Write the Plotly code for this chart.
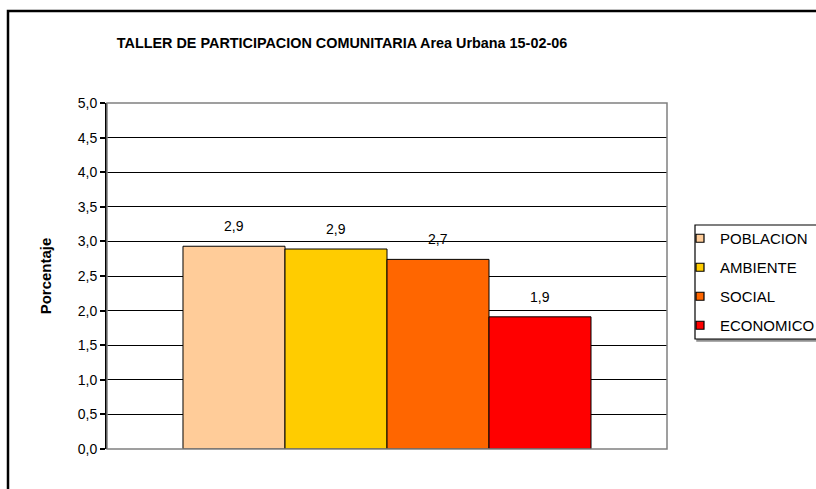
import plotly.graph_objects as go

# Data
series = ["POBLACION", "AMBIENTE", "SOCIAL", "ECONOMICO"]
values = [2.93, 2.89, 2.74, 1.91]
colors = ["#FFCC99", "#FFCC00", "#FF6600", "#FF0000"]
positions = [0, 1, 2, 3]
y_ticks = [0, 0.5, 1, 1.5, 2, 2.5, 3, 3.5, 4, 4.5, 5]

W, H = 816, 489
L, R, T, B = 107, 149, 103, 40
pw = W - L - R
ph = H - T - B

FONT = "Arial, Liberation Sans, sans-serif"

fig = go.Figure()
for name, v, c, p in zip(series, values, colors, positions):
    fig.add_trace(go.Bar(
        x=[p], y=[v], width=[1], name=name, showlegend=False,
        marker=dict(color=c, line=dict(color="black", width=1)),
        hoverinfo="skip",
    ))
# legend entries (small square swatches)
for name, c in zip(series, colors):
    fig.add_trace(go.Scatter(
        x=[None], y=[None], mode="markers", name=name, legendgroup=name,
        marker=dict(symbol="square", size=8, color=c, line=dict(color="black", width=1.2)),
    ))

annotations = []
for v, p in zip(values, positions):
    annotations.append(dict(
        x=p, y=v, xref="x", yref="y", text=f"{v:.1f}".replace(".", ","),
        showarrow=False, yanchor="bottom", yshift=10,
        font=dict(family=FONT, size=14, color="black"),
    ))

def px_to_paper_x(px):
    return (px - L) / pw

def px_to_paper_y(py):
    return (H - B - py) / ph

shapes = [
    # plot area border (grey)
    dict(type="rect", xref="paper", yref="paper", x0=0, x1=1, y0=0, y1=1,
         line=dict(color="#808080", width=1.5), layer="above"),
    # outer chart border
    dict(type="rect", xref="paper", yref="paper",
         x0=px_to_paper_x(8), x1=px_to_paper_x(830),
         y0=px_to_paper_y(500), y1=px_to_paper_y(11),
         line=dict(color="black", width=2.5)),
    # legend box shadow
    dict(type="rect", xref="paper", yref="paper",
         x0=px_to_paper_x(697), x1=px_to_paper_x(830),
         y0=px_to_paper_y(341), y1=px_to_paper_y(227),
         line=dict(color="#909090", width=1.5), fillcolor="#909090", layer="below"),
    # legend box
    dict(type="rect", xref="paper", yref="paper",
         x0=px_to_paper_x(695), x1=px_to_paper_x(830),
         y0=px_to_paper_y(339), y1=px_to_paper_y(225),
         line=dict(color="black", width=1.2), fillcolor="white", layer="below"),
]

fig.update_layout(
    width=W, height=H,
    margin=dict(l=L, r=R, t=T, b=B, autoexpand=False),
    paper_bgcolor="white", plot_bgcolor="white",
    separators=",.",
    font=dict(family=FONT, color="black", size=14),
    title=dict(text="<b>TALLER DE PARTICIPACION COMUNITARIA Area Urbana 15-02-06</b>",
               x=342 / W, xref="container", xanchor="center",
               y=1 - 43 / H, yref="container", yanchor="middle",
               font=dict(size=14.4)),
    xaxis=dict(range=[-1.245, 4.245], showticklabels=False, showgrid=False,
               zeroline=False, showline=False, ticks=""),
    yaxis=dict(range=[0, 5], tickvals=y_ticks, tickformat=".1f",
               showgrid=True, gridcolor="black", gridwidth=1,
               zeroline=False, showline=True, linecolor="black", linewidth=2,
               ticks="outside", ticklen=5, tickcolor="black", tickwidth=1.5,
               tickfont=dict(size=14),
               title=dict(text="<b>Porcentaje</b>", font=dict(size=15), standoff=22)),
    legend=dict(x=px_to_paper_x(680), xanchor="left", y=px_to_paper_y(222), yanchor="top",
                borderwidth=0, bgcolor="rgba(0,0,0,0)",
                font=dict(size=15), tracegroupgap=6.5, itemwidth=30,
                traceorder="grouped"),
    showlegend=True,
    annotations=annotations,
    shapes=shapes,
)

fig.write_html("out.html", post_script="document.body.style.margin='0';",
               config={"displayModeBar": False})
